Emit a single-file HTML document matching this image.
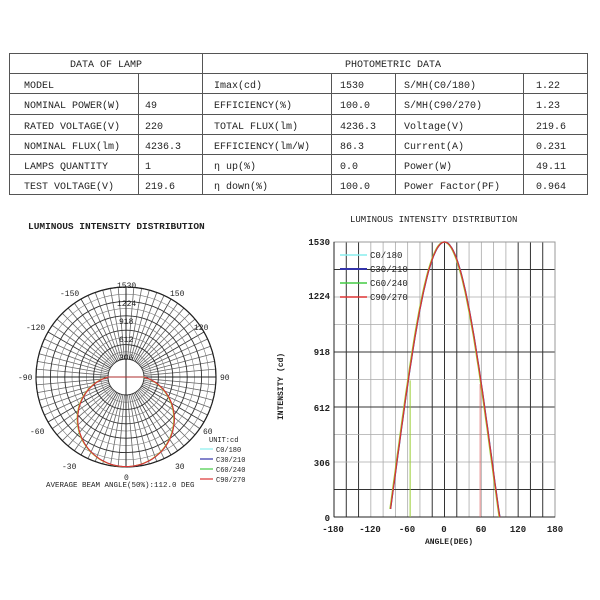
<!DOCTYPE html>
<html><head><meta charset="utf-8"><style>
body{margin:0;background:#fff;width:600px;height:600px;overflow:hidden}
svg{display:block}
text{font-family:"Liberation Mono",monospace;fill:#222}
</style></head><body>
<svg id="s" width="600" height="600" viewBox="0 0 600 600" xmlns="http://www.w3.org/2000/svg">
<rect width="600" height="600" fill="#fff"/>
<g stroke="#555" stroke-width="1" fill="none">
<rect x="9.5" y="53.5" width="578" height="141"/>
<line x1="9" y1="73.5" x2="588" y2="73.5"/>
<line x1="9" y1="93.5" x2="588" y2="93.5"/>
<line x1="9" y1="114.5" x2="588" y2="114.5"/>
<line x1="9" y1="134.5" x2="588" y2="134.5"/>
<line x1="9" y1="154.5" x2="588" y2="154.5"/>
<line x1="9" y1="174.5" x2="588" y2="174.5"/>
<line x1="202.5" y1="53" x2="202.5" y2="195"/>
<line x1="138.5" y1="73" x2="138.5" y2="195"/>
<line x1="331.5" y1="73" x2="331.5" y2="195"/>
<line x1="395.5" y1="73" x2="395.5" y2="195"/>
<line x1="523.5" y1="73" x2="523.5" y2="195"/>
</g>
<g font-size="10">
<text x="70" y="67">DATA OF LAMP</text><text x="345" y="67">PHOTOMETRIC DATA</text>
<text x="24" y="88">MODEL</text><text x="214" y="88">Imax(cd)</text><text x="340" y="88">1530</text><text x="404" y="88">S/MH(C0/180)</text><text x="536" y="88">1.22</text>
<text x="24" y="108">NOMINAL POWER(W)</text><text x="145" y="108">49</text><text x="214" y="108">EFFICIENCY(%)</text><text x="340" y="108">100.0</text><text x="404" y="108">S/MH(C90/270)</text><text x="536" y="108">1.23</text>
<text x="24" y="129">RATED VOLTAGE(V)</text><text x="145" y="129">220</text><text x="214" y="129">TOTAL FLUX(lm)</text><text x="340" y="129">4236.3</text><text x="404" y="129">Voltage(V)</text><text x="536" y="129">219.6</text>
<text x="24" y="149">NOMINAL FLUX(lm)</text><text x="145" y="149">4236.3</text><text x="214" y="149">EFFICIENCY(lm/W)</text><text x="340" y="149">86.3</text><text x="404" y="149">Current(A)</text><text x="536" y="149">0.231</text>
<text x="24" y="169">LAMPS QUANTITY</text><text x="145" y="169">1</text><text x="214" y="169">η up(%)</text><text x="340" y="169">0.0</text><text x="404" y="169">Power(W)</text><text x="536" y="169">49.11</text>
<text x="24" y="189">TEST VOLTAGE(V)</text><text x="145" y="189">219.6</text><text x="214" y="189">η down(%)</text><text x="340" y="189">100.0</text><text x="404" y="189">Power Factor(PF)</text><text x="536" y="189">0.964</text>
</g>
<text x="28" y="229" font-size="9.5" font-weight="bold">LUMINOUS INTENSITY DISTRIBUTION</text>
<text x="350" y="222" font-size="9">LUMINOUS INTENSITY DISTRIBUTION</text>
<g id="polar"></g>
<g font-size="8">
<text x="117" y="288">1530</text><text x="117" y="306">1224</text><text x="119" y="324">918</text><text x="119" y="342">612</text><text x="119" y="360">306</text>
<text x="60" y="296">-150</text><text x="170" y="296">150</text>
<text x="26" y="330">-120</text><text x="194" y="330">120</text>
<text x="18" y="380">-90</text><text x="220" y="380">90</text>
<text x="30" y="434">-60</text><text x="203" y="434">60</text>
<text x="62" y="469">-30</text><text x="175" y="469">30</text>
<text x="124" y="480">0</text>
<text x="209" y="442" font-size="7">UNIT:cd</text>
<text x="216" y="452" font-size="7">C0/180</text><text x="216" y="462" font-size="7">C30/210</text><text x="216" y="472" font-size="7">C60/240</text><text x="216" y="482" font-size="7">C90/270</text>
<text x="46" y="487" font-size="7.5">AVERAGE BEAM ANGLE(50%):112.0 DEG</text>
</g>
<g stroke-width="1.2"><line x1="200" y1="449" x2="213" y2="449" stroke="#8ee"/><line x1="200" y1="459" x2="213" y2="459" stroke="#33a"/><line x1="200" y1="469" x2="213" y2="469" stroke="#4c4"/><line x1="200" y1="479" x2="213" y2="479" stroke="#d33"/></g>
<g id="cart"></g>
<g font-size="9" font-weight="bold">
<text x="330" y="245" text-anchor="end">1530</text><text x="330" y="299" text-anchor="end">1224</text><text x="330" y="355" text-anchor="end">918</text><text x="330" y="411" text-anchor="end">612</text><text x="330" y="466" text-anchor="end">306</text><text x="330" y="521" text-anchor="end">0</text>
<text x="333" y="532" text-anchor="middle">-180</text><text x="370" y="532" text-anchor="middle">-120</text><text x="407" y="532" text-anchor="middle">-60</text><text x="444" y="532" text-anchor="middle">0</text><text x="481" y="532" text-anchor="middle">60</text><text x="518" y="532" text-anchor="middle">120</text><text x="555" y="532" text-anchor="middle">180</text>
<text x="425" y="544" font-size="8">ANGLE(DEG)</text>
<text transform="translate(283,420) rotate(-90)" font-size="8">INTENSITY (cd)</text>
<text x="370" y="258" font-weight="normal">C0/180</text><text x="370" y="272" font-weight="normal">C30/210</text><text x="370" y="286" font-weight="normal">C60/240</text><text x="370" y="300" font-weight="normal">C90/270</text>
</g>
<script>
var NS="http://www.w3.org/2000/svg";
function L(g,x1,y1,x2,y2,c,w){var e=document.createElementNS(NS,"line");e.setAttribute("x1",x1);e.setAttribute("y1",y1);e.setAttribute("x2",x2);e.setAttribute("y2",y2);e.setAttribute("stroke",c);e.setAttribute("stroke-width",w||1);g.appendChild(e);}
function P(g,d,c,w){var e=document.createElementNS(NS,"path");e.setAttribute("d",d);e.setAttribute("stroke",c);e.setAttribute("fill","none");e.setAttribute("stroke-width",w||1);g.appendChild(e);}
function C(g,cx,cy,r,c,w){var e=document.createElementNS(NS,"circle");e.setAttribute("cx",cx);e.setAttribute("cy",cy);e.setAttribute("r",r);e.setAttribute("stroke",c);e.setAttribute("fill","none");e.setAttribute("stroke-width",w||1);g.appendChild(e);}
var pg=document.getElementById("polar"),cx=126,cy=377,R=90,r0=18;
for(var a=0;a<360;a+=5){var t=a*Math.PI/180;L(pg,cx+r0*Math.sin(t),cy+r0*Math.cos(t),cx+R*Math.sin(t),cy+R*Math.cos(t),a%30==0?"#333":"#666",0.8);}
for(var k=1;k<=10;k++){C(pg,cx,cy,r0+(R-r0)*k/10,k%2==0?"#333":"#777",k%2==0?0.9:0.6);}
C(pg,cx,cy,r0,"#333",0.9);C(pg,cx,cy,R,"#222",1.2);
L(pg,cx,cy-R,cx,cy+R,"#222",1);L(pg,cx-R,cy,cx+R,cy,"#222",1);
function pol(p,off){var d="";for(var a=-90;a<=90;a+=2){var t=a*Math.PI/180,v=Math.pow(Math.max(Math.cos(t),0),p);var rr=r0+(R-r0)*v*0.995;d+=(a==-90?"M":"L")+(cx+rr*Math.sin(t)+off).toFixed(1)+","+(cy+rr*Math.cos(t)).toFixed(1);}return d;}
P(pg,"M"+cx+","+cy+"L"+(cx-r0)+","+cy,"#d33",0.8);P(pg,"M"+cx+","+cy+"L"+(cx+r0)+","+cy,"#d33",0.8);
P(pg,pol(1.05,0),"#8ee",1);P(pg,pol(1.05,0),"#33a",1);P(pg,pol(1.05,-0.6),"#9c3",1);P(pg,pol(1.05,0),"#d33",1.1);
var cg=document.getElementById("cart"),X0=334,X1=555,Y0=242,Y1=517;
function xp(a){return X0+(a+180)*(X1-X0)/360;}function yp(v){return Y1-v*(Y1-Y0)/1530;}
for(var a=-160;a<180;a+=20){var dark=[-160,-140,-20,0,20,120,140,160].indexOf(a)>=0;L(cg,xp(a),Y0,xp(a),Y1,dark?"#333":"#aaa",dark?1:0.8);}
for(var k=1;k<10;k++){var dark=[1,4,6,9].indexOf(k)>=0;L(cg,X0,yp(153*k),X1,yp(153*k),dark?"#333":"#aaa",dark?1:0.8);}
var b=document.createElementNS(NS,"rect");b.setAttribute("x",X0);b.setAttribute("y",Y0);b.setAttribute("width",X1-X0);b.setAttribute("height",Y1-Y0);b.setAttribute("fill","none");b.setAttribute("stroke","#999");cg.appendChild(b);
L(cg,X0,Y0,X0,Y1,"#222",1);L(cg,X0,Y1,X1,Y1,"#222",1);
L(cg,xp(-56),yp(760),xp(-56),Y1,"#9c3",1);L(cg,xp(58),yp(740),xp(58),Y1,"#d66",0.8);
function cur(p,off){var d="";for(var a=-88;a<=90;a+=2){var t=a*Math.PI/180,v=1530*Math.pow(Math.max(Math.cos(t),0),p);d+=(a==-88?"M":"L")+(xp(a+off)).toFixed(1)+","+yp(v).toFixed(1);}return d;}
P(cg,cur(1.05,0),"#8ee",1.5);P(cg,cur(1.05,0),"#33a",1.5);P(cg,cur(1.05,-1),"#9c3",1.2);P(cg,cur(1.05,0),"#d33",1.2);
L(cg,340,255,367,255,"#8ee",1.5);L(cg,340,269,367,269,"#33a",2);L(cg,340,283,367,283,"#4c4",1.5);L(cg,340,297,367,297,"#d33",1.5);
</script>
</svg>
</body></html>
